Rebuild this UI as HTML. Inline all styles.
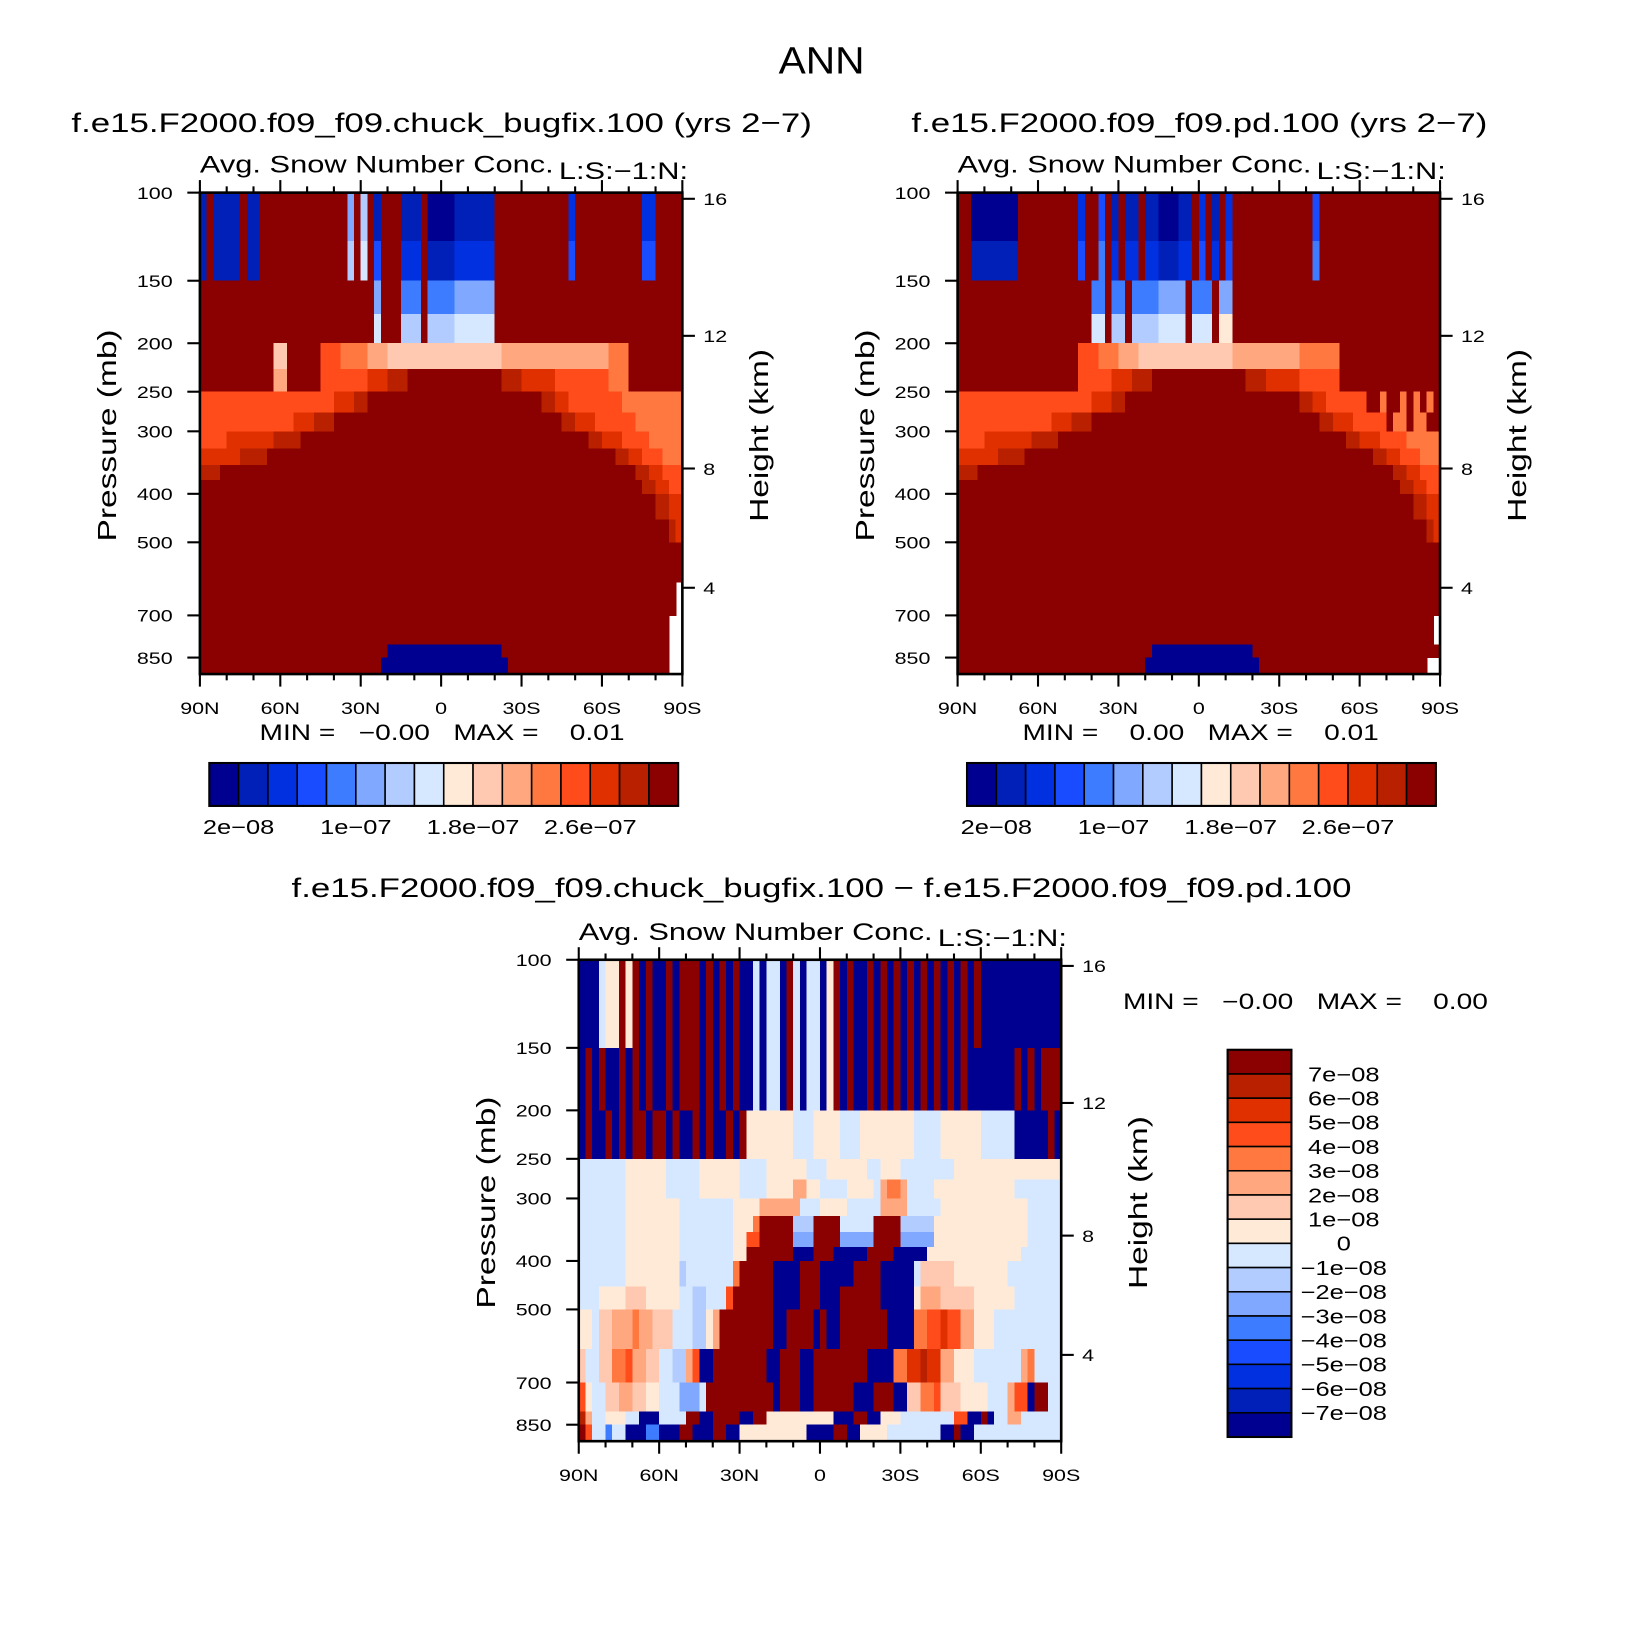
<!DOCTYPE html>
<html><head><meta charset="utf-8"><title>ANN snow number concentration</title>
<style>html,body{margin:0;padding:0;background:#fff}svg{display:block}text{font-family:"Liberation Sans",sans-serif;fill:#000}</style>
</head><body>
<svg id="chart" xmlns="http://www.w3.org/2000/svg" width="1641" height="1638" viewBox="0 0 1568 1565">
<text x="785" y="70" font-size="36" text-anchor="middle" data-k="1.08">ANN</text>
<g id="pA"></g>
<g id="pB"></g>
<g id="pC"></g>
</svg>
<script>
// colour table (16 levels) + '-' = missing
const colors = ["#000090","#0020b8","#0030e0","#1a4cff","#3d7cff","#80a8ff","#b3ccff","#d6e8ff","#ffead8","#ffc8b0","#ffa880","#ff7840","#ff4c1a","#e03000","#b82000","#8b0000"];
// pressure row edges (mb)
const pEdges = [100,125,150,175,200,225,250,275,300,325,350,375,400,450,500,600,700,800,850,917];
const xTickLabels = ["90N","60N","30N","0","30S","60S","90S"];
const pTicks = [100,150,200,250,300,400,500,700,850];
const zTicks = [16,12,8,4];
const topBarLabels = ["2e−08","1e−07","1.8e−07","2.6e−07"];
const topBarLabelIdx = [1,5,9,13];
const diffBarLabels = ["7e−08","6e−08","5e−08","4e−08","3e−08","2e−08","1e−08","0","−1e−08","−2e−08","−3e−08","−4e−08","−5e−08","−6e−08","−7e−08"];
// field rows: run-length "level:count", 72 columns of 2.5 deg from 90N to 90S
const fieldA = [
"1:1 f:1 1:4 f:1 1:2 f:11 f:2 5:1 f:1 6:1 f:1 1:1 f:3 1:3 f:1 0:4 1:6 f:11 2:1 f:10 2:2 f:4",
"1:1 f:1 1:4 f:1 1:2 f:11 f:2 6:1 f:1 7:1 f:1 3:1 f:3 2:3 f:1 1:4 2:6 f:11 3:1 f:10 3:2 f:4",
"f:20 f:6 5:1 f:3 4:3 f:1 4:4 5:6 f:28",
"f:20 f:6 7:1 f:3 6:3 f:1 6:4 7:6 f:28",
"f:11 9:2 f:5 c:3 b:4 a:3 9:17 a:16 b:3 f:8",
"f:11 a:2 f:5 c:7 d:3 e:3 f:14 e:3 d:5 c:8 b:3 f:8",
"c:20 d:3 e:2 f:26 e:2 d:2 c:8 b:9",
"c:14 d:3 e:3 f:34 e:2 d:3 c:6 b:7",
"c:4 d:7 e:4 f:43 e:2 d:3 c:4 b:5",
"d:6 e:4 f:52 e:2 d:2 c:3 b:3",
"e:3 f:62 e:2 d:2 c:3",
"f:66 e:2 d:2 c:2",
"f:68 e:2 d:2",
"f:70 e:1 d:1",
"f:72",
"f:71 -:1",
"f:70 -:2",
"f:28 0:17 f:25 -:2",
"f:27 0:19 f:24 -:2"
];
const fieldB = [
"f:2 0:7 f:9 2:1 f:2 3:1 f:1 1:1 f:1 1:2 f:1 1:2 0:3 1:2 f:1 2:1 f:1 1:1 f:1 2:1 f:3 f:9 3:1 f:18",
"f:2 1:7 f:9 3:1 f:2 4:1 f:1 2:1 f:1 2:2 f:1 2:2 1:3 2:2 f:1 3:1 f:1 2:1 f:1 3:1 f:3 f:9 4:1 f:18",
"f:18 f:2 4:2 f:1 4:2 f:1 4:4 5:4 f:1 4:3 f:1 5:2 f:3 f:28",
"f:18 f:2 7:2 f:1 6:2 f:1 6:4 7:4 f:1 7:3 f:1 8:2 f:3 f:28",
"f:18 c:3 b:3 a:3 9:14 a:10 b:6 f:15",
"f:18 c:5 d:3 e:3 f:14 e:3 d:5 c:6 f:15",
"c:20 d:3 e:2 f:26 e:2 d:2 c:6 f:2 b:1 f:2 b:1 f:1 b:1 f:1 b:1 f:1",
"c:14 d:3 e:3 f:34 e:2 d:3 c:5 f:1 b:2 f:1 b:2 f:2",
"c:4 d:7 e:4 f:43 e:2 d:3 c:4 b:5",
"d:6 e:4 f:52 e:2 d:2 c:3 b:3",
"e:3 f:62 e:2 d:2 c:3",
"f:66 e:2 d:2 c:2",
"f:68 e:2 d:2",
"f:70 e:1 d:1",
"f:72",
"f:72",
"f:71 -:1",
"f:29 0:15 f:28",
"f:28 0:17 f:25 -:2"
];
const fieldC = [
"0:3 7:1 8:2 f:1 8:1 f:1 0:1 f:1 0:2 f:1 0:1 f:3 0:1 f:1 0:1 f:1 0:1 f:1 0:2 7:1 0:1 7:2 0:1 f:1 7:1 0:1 7:2 0:1 8:1 f:1 0:1 f:1 0:2 f:1 0:1 f:1 0:1 f:1 0:1 f:1 0:1 f:1 0:1 f:1 0:1 f:1 0:1 f:1 0:1 f:1 0:12",
"0:3 7:1 8:2 f:1 8:1 f:1 0:1 f:1 0:2 f:1 0:1 f:3 0:1 f:1 0:1 f:1 0:1 f:1 0:2 7:1 0:1 7:2 0:1 f:1 7:1 0:1 7:2 0:1 8:1 f:1 0:1 f:1 0:2 f:1 0:1 f:1 0:1 f:1 0:1 f:1 0:1 f:1 0:1 f:1 0:1 f:1 0:1 f:1 0:1 f:1 0:12",
"0:1 f:1 0:1 f:1 0:2 f:1 0:1 f:1 0:1 f:1 0:2 f:1 0:1 f:3 0:1 f:1 0:1 f:1 0:1 f:1 0:2 7:1 0:1 7:2 0:1 f:1 7:1 0:1 7:2 0:1 8:1 f:1 0:1 f:1 0:2 f:1 0:1 f:1 0:1 f:1 0:1 f:1 0:1 f:1 0:1 f:1 0:1 f:1 0:1 f:1 0:7 f:1 0:1 f:1 0:1 f:1",
"0:1 f:1 0:1 f:1 0:2 f:1 0:1 f:1 0:1 f:1 0:2 f:1 0:1 f:3 0:1 f:1 0:1 f:1 0:1 f:1 0:2 7:1 0:1 7:2 0:1 f:1 7:1 0:1 7:2 0:1 8:1 f:1 0:1 f:1 0:2 f:1 0:1 f:1 0:1 f:1 0:1 f:1 0:1 f:1 0:1 f:1 0:1 f:1 0:1 f:1 0:7 f:1 0:1 f:1 0:1 f:1",
"0:1 f:1 0:2 f:1 0:1 f:1 0:1 f:2 0:1 f:2 0:1 f:1 0:2 f:1 0:1 f:1 0:2 f:1 0:1 f:1 8:7 7:3 8:4 7:3 8:8 7:4 8:6 7:5 0:5 f:1 0:1",
"0:1 f:1 0:2 f:1 0:1 f:1 0:1 f:2 0:1 f:2 0:1 f:1 0:2 f:1 0:1 f:1 0:2 f:1 0:1 f:1 8:7 7:3 8:4 7:3 8:8 7:4 8:6 7:5 0:5 f:1 0:1",
"7:7 8:6 7:5 8:6 7:4 8:6 7:3 8:6 7:2 8:3 7:8 8:16",
"7:7 8:6 7:5 8:6 7:4 8:4 a:2 8:2 7:4 8:4 7:1 a:1 b:2 a:1 7:4 8:12 7:7",
"7:7 8:8 7:8 8:4 a:6 7:3 8:4 7:5 a:4 7:5 8:13 7:5",
"7:7 8:8 7:8 8:3 b:1 f:5 6:3 f:4 7:5 f:4 6:5 8:14 7:5",
"7:7 8:8 7:8 8:2 c:2 f:5 5:3 f:4 5:5 f:4 5:5 8:14 7:5",
"7:7 8:8 7:8 8:2 f:3 f:4 0:3 f:3 0:5 f:4 0:5 8:14 7:6",
"7:7 8:8 6:1 7:7 b:1 f:5 0:4 f:3 0:5 f:4 0:5 7:1 9:5 8:8 7:8",
"7:3 8:4 9:3 8:5 7:2 6:2 7:3 c:1 f:6 0:4 f:3 0:3 f:6 0:5 8:1 a:3 9:5 8:6 7:7",
"8:2 7:1 9:2 a:3 b:1 a:2 9:3 7:3 6:2 8:1 a:1 f:8 0:2 f:4 0:1 f:1 0:2 f:7 0:4 b:2 c:2 d:1 c:2 a:2 8:3 7:10",
"9:1 7:2 9:2 b:2 c:1 a:2 9:2 7:2 6:2 a:1 c:1 0:2 f:8 0:2 f:3 0:2 f:6 f:2 0:4 b:2 d:2 e:1 d:2 a:2 8:3 7:7 a:1 b:1 7:4",
"c:1 8:1 7:2 9:2 a:2 9:2 8:2 7:3 5:3 7:1 f:10 0:1 f:3 0:2 f:6 0:3 f:3 0:2 9:2 b:2 c:1 9:3 8:4 7:3 a:1 c:2 0:1 f:2 7:2",
"e:1 a:1 7:2 8:3 7:2 0:3 7:4 f:2 0:2 f:4 0:2 f:2 8:10 0:3 f:2 0:2 8:3 7:8 c:2 0:2 f:1 0:1 7:2 a:2 7:6",
"f:1 c:1 7:2 4:1 7:2 0:3 4:2 0:3 f:2 0:3 f:2 0:2 8:10 0:4 f:2 0:2 8:4 7:8 0:2 f:1 0:2 7:13"
];

const NS="http://www.w3.org/2000/svg";
function mk(tag, attrs, parent){const e=document.createElementNS(NS,tag);for(const k in attrs)e.setAttribute(k,attrs[k]);parent.appendChild(e);return e;}
function decode(s){const out=[];s.trim().split(/\s+/).forEach(t=>{const [l,n]=t.split(':');for(let i=0;i<+n;i++)out.push(l);});while(out.length<72)out.push(out[out.length-1]);return out.slice(0,72);}
const PW=461, PH=460, PPD=478;
function yP(p,y0){return y0+PPD*Math.log10(p/100);}
function zToP(z){return z<=11?1013.25*Math.pow(1-z/44.3308,5.2559):226.32*Math.exp(-(z-11)/6.3416);}
function xLat(i,x0){return x0+i*PW/6;}

function drawPanel(g,field,x0,y0,o){
  const clip='clip'+g.id;
  const cp=mk('clipPath',{id:clip},g);mk('rect',{x:x0,y:y0,width:PW,height:PH},cp);
  const fg=mk('g',{'clip-path':'url(#'+clip+')','shape-rendering':'crispEdges'},g);
  
  
  const cw=PW/72;
  field.forEach((row,r)=>{
    const cells=decode(row);
    const ya=yP(pEdges[r],y0), yb=Math.min(yP(pEdges[r+1],y0),y0+PH);
    let c=0;
    while(c<72){let c2=c;while(c2+1<72&&cells[c2+1]===cells[c])c2++;
      const lv=cells[c];
      if(lv!=='-'){const rc=mk('rect',{x:x0+c*cw,y:ya,width:(c2-c+1)*cw+0.6,height:yb-ya+0.6,fill:colors[parseInt(lv,16)]},fg);
        
        }
      c=c2+1;}
  });
  mk('rect',{x:x0,y:y0,width:PW,height:PH,fill:'none',stroke:'#000','stroke-width':2.5},g);
  for(let k=0;k<=18;k++){const x=x0+k*PW/18;const L=(k%3===0)?12:6;
    mk('line',{x1:x,y1:y0,x2:x,y2:y0-L,stroke:'#000','stroke-width':2},g);
    mk('line',{x1:x,y1:y0+PH,x2:x,y2:y0+PH+L,stroke:'#000','stroke-width':2},g);}
  xTickLabels.forEach((t,i)=>{const e=mk('text',{x:xLat(i,x0),y:y0+PH+38,'font-size':16,'text-anchor':'middle'},g);e.textContent=t;
    
    });
  pTicks.forEach(p=>{const y=yP(p,y0);mk('line',{x1:x0,y1:y,x2:x0-12,y2:y,stroke:'#000','stroke-width':2},g);
    const e=mk('text',{x:x0-26,y:y+6,'font-size':16,'text-anchor':'end'},g);e.textContent=p;
    
    });
  zTicks.forEach(z=>{const y=yP(zToP(z),y0);
    mk('line',{x1:x0+PW,y1:y,x2:x0+PW+12,y2:y,stroke:'#000','stroke-width':2},g);
    const e=mk('text',{x:x0+PW+20,y:y+6,'font-size':16},g);e.textContent=z;
    
    });
  const yt=mk('text',{x:0,y:0,'font-size':25,'text-anchor':'middle',transform:`translate(${x0-80},${y0+232}) rotate(-90)`},g);yt.textContent='Pressure  (mb)';
  
  
  const zt=mk('text',{x:0,y:0,'font-size':25,'text-anchor':'middle',transform:`translate(${x0+PW+82},${y0+232}) rotate(-90)`},g);zt.textContent='Height  (km)';
  
  
  const st=mk('text',{x:x0,y:y0-19,'font-size':23},g);st.textContent='Avg.  Snow  Number  Conc.';
  
  
  const ls=mk('text',{x:x0+343,y:y0-13,'font-size':23},g);ls.textContent='L:S:−1:N:';
  
  
  const tt=mk('text',{x:o.tx,y:o.ty,'font-size':26,'text-anchor':'middle'},g);tt.textContent=o.title;
  
  
  const mm=mk('text',{x:o.mx,y:o.my,'font-size':21},g);mm.textContent=o.minmax;mm.setAttribute('style','white-space:pre');
  
  
}
function hBar(g,x0,y0){const w=28;
  colors.forEach((c,i)=>{const r=mk('rect',{x:x0+i*w,y:y0,width:w,height:41,fill:c,stroke:'#000','stroke-width':1.5},g);
    
    });
  mk('rect',{x:x0,y:y0,width:16*w,height:41,fill:'none',stroke:'#000','stroke-width':2},g);
  topBarLabels.forEach((t,i)=>{const e=mk('text',{x:x0+topBarLabelIdx[i]*w,y:y0+68,'font-size':19,'text-anchor':'middle'},g);e.textContent=t;
    
    });
}
function vBar(g,x0,y0){const h=370/16;
  for(let i=0;i<16;i++){const r=mk('rect',{x:x0,y:y0+i*h,width:61,height:h,fill:colors[15-i],stroke:'#000','stroke-width':1.5},g);
    
    }
  mk('rect',{x:x0,y:y0,width:61,height:370,fill:'none',stroke:'#000','stroke-width':2},g);
  diffBarLabels.forEach((t,i)=>{const e=mk('text',{x:x0+111,y:y0+(i+1)*h+7,'font-size':19,'text-anchor':'middle'},g);e.textContent=t;
    
    });
}
const gA=document.getElementById('pA'),gB=document.getElementById('pB'),gC=document.getElementById('pC');
drawPanel(gA,fieldA,191,184,{title:'f.e15.F2000.f09_f09.chuck_bugfix.100 (yrs 2−7)',tx:422,ty:126,minmax:'MIN =   −0.00   MAX =    0.01',mx:248,my:707});
hBar(gA,200,729);
drawPanel(gB,fieldB,915,184,{title:'f.e15.F2000.f09_f09.pd.100 (yrs 2−7)',tx:1146,ty:126,minmax:'MIN =    0.00   MAX =    0.01',mx:977,my:707});
hBar(gB,924,729);
drawPanel(gC,fieldC,553,917,{title:'f.e15.F2000.f09_f09.chuck_bugfix.100 − f.e15.F2000.f09_f09.pd.100',tx:785,ty:857,minmax:'MIN =   −0.00   MAX =    0.00',mx:1073,my:964});
vBar(gC,1173,1003);
// widen text to match the reference's broader font
document.querySelectorAll('#chart text').forEach(t=>{
  const k=parseFloat(t.getAttribute('data-k')||'1.28');
  const L=t.getComputedTextLength();
  if(L>0){t.setAttribute('textLength',(L*k).toFixed(1));t.setAttribute('lengthAdjust','spacingAndGlyphs');}
});
</script>
</body></html>
